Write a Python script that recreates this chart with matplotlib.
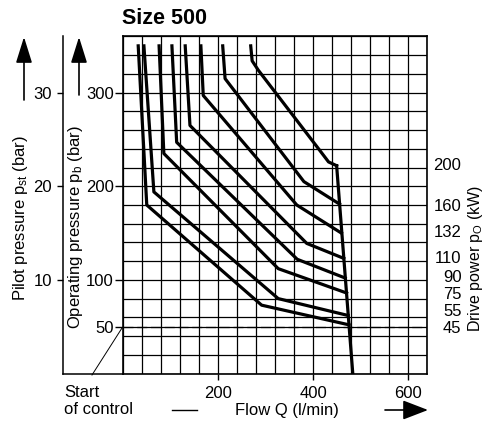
import matplotlib
matplotlib.use("Agg")
import matplotlib.pyplot as plt
from matplotlib.lines import Line2D

plt.rcParams['font.family'] = ['Liberation Sans', 'DejaVu Sans']
plt.rcParams['mathtext.fontset'] = 'custom'
plt.rcParams['mathtext.rm'] = 'Liberation Sans'
plt.rcParams['mathtext.it'] = 'Liberation Sans:italic'

# power curves, flow Q (l/min) vs operating pressure pb (bar)
q45 = [31, 49, 291, 475]
p45 = [350, 180, 73, 52]
q55 = [43, 64, 326, 473]
p55 = [350, 194, 80, 62]
q75 = [75, 85, 326, 470]
p75 = [350, 235, 112, 86]
q90 = [102, 112, 366, 467]
p90 = [350, 247, 122, 102]
q110 = [130, 140, 386, 464]
p110 = [350, 265, 139, 123]
q132 = [163, 168, 365, 459]
p132 = [350, 297, 180, 150]
q160 = [209, 214, 380, 455]
p160 = [350, 315, 205, 181]
q200 = [268, 271, 284, 414, 432, 449]
p200 = [350, 334, 324, 238, 226, 222]

# common max-flow line
q_max = [449, 483]
p_max = [222, 0]

power_labels = ["200", "160", "132", "110", "90", "75", "55", "45"]
label_p = [222, 178, 151, 123, 103, 84, 66, 48.5]

pb_ticks = [50, 100, 200, 300]
pst_ticks = [10, 20, 30]
q_ticks = [200, 400, 600]

W, H = 485, 423
fig = plt.figure(figsize=(W / 100, H / 100), dpi=100)
fig.patch.set_facecolor("white")

L, R, T, B = 123.5, 427.3, 36.5, 373.5
rect_b = (H - B) / H
rect_h = (B - T) / H

def fx(px):
    return px / W

def fy(py):
    return (H - py) / H

# outer pilot pressure axis
axp = fig.add_axes([fx(63), rect_b, fx(L) - fx(63), rect_h])
axp.set_ylim(0, 36)
axp.set_xlim(0, 1)
axp.patch.set_alpha(0)
for s in ["top", "right"]:
    axp.spines[s].set_visible(False)
axp.spines["left"].set_linewidth(1.1)
axp.spines["bottom"].set_linewidth(1.1)
axp.set_xticks([])
axp.set_yticks(pst_ticks)
axp.tick_params(axis="y", length=4, width=1, pad=4, labelsize=12)

# main chart
ax = fig.add_axes([fx(L), rect_b, fx(R) - fx(L), rect_h])
ax.set_xlim(0, 640)
ax.set_ylim(0, 360)
ax.set_xticks(q_ticks)
ax.set_yticks(pb_ticks)
ax.set_xticks(range(0, 641, 40), minor=True)
ax.set_yticks(range(0, 361, 20), minor=True)
ax.tick_params(which="minor", length=0)
ax.tick_params(axis="x", length=4, width=1, pad=5, labelsize=12)
ax.tick_params(axis="y", length=6, width=1, pad=1, labelsize=12)
ax.grid(which="both", color="black", linewidth=0.9)
ax.set_axisbelow(True)
for s in ax.spines.values():
    s.set_linewidth(1.2)

ax.axhline(50, color="black", linewidth=0.9, dashes=(8, 3), zorder=1)

for q, p in [(q45, p45), (q55, p55), (q75, p75), (q90, p90),
             (q110, p110), (q132, p132), (q160, p160), (q200, p200)]:
    ax.plot(q, p, color="black", linewidth=2.3, solid_joinstyle="round", zorder=3)
ax.plot(q_max, p_max, color="black", linewidth=2.3, zorder=3)

for lab, yp in zip(power_labels, label_p):
    ax.text(712, yp, lab, ha="right", va="center", fontsize=12, clip_on=False)

# texts
fig.text(fx(122), fy(19), "Size 500", fontsize=15.5, fontweight="bold",
         ha="left", va="center")
fig.text(fx(21), fy(218), r"Pilot pressure p$_\mathrm{st}$ (bar)", rotation=90,
         fontsize=12, ha="center", va="center")
fig.text(fx(76), fy(227), r"Operating pressure p$_\mathrm{b}$ (bar)", rotation=90,
         fontsize=12, ha="center", va="center")
fig.text(fx(476), fy(258), r"Drive power p$_\mathrm{O}$ (kW)", rotation=90,
         fontsize=11.5, ha="center", va="center")
fig.text(fx(64), fy(392), "Start", fontsize=12, ha="left", va="center")
fig.text(fx(64), fy(409), "of control", fontsize=12, ha="left", va="center")
fig.text(fx(235), fy(410), "Flow Q (l/min)", fontsize=12, ha="left", va="center")

# leader line and dash
fig.add_artist(Line2D([fx(92), fx(122)], [fy(375), fy(328)], color="black",
                      linewidth=0.7, transform=fig.transFigure))
fig.add_artist(Line2D([fx(172), fx(197)], [fy(410), fy(410)], color="black",
                      linewidth=1.0, transform=fig.transFigure))

# arrows
arrow = dict(arrowstyle="-|>,head_length=1.6,head_width=0.5", color="black",
             linewidth=1.2, mutation_scale=10, shrinkA=0, shrinkB=0)
ax.annotate("", xy=(fx(24), fy(37)), xytext=(fx(24), fy(100)),
            xycoords="figure fraction", textcoords="figure fraction", arrowprops=arrow)
ax.annotate("", xy=(fx(79), fy(37)), xytext=(fx(79), fy(95)),
            xycoords="figure fraction", textcoords="figure fraction", arrowprops=arrow)
arrow_h = dict(arrowstyle="-|>,head_length=1.3,head_width=0.5", color="black",
               linewidth=1.2, mutation_scale=12, shrinkA=0, shrinkB=0)
ax.annotate("", xy=(fx(428), fy(410)), xytext=(fx(385), fy(410)),
            xycoords="figure fraction", textcoords="figure fraction", arrowprops=arrow_h)

fig.savefig("out.png", dpi=100)
